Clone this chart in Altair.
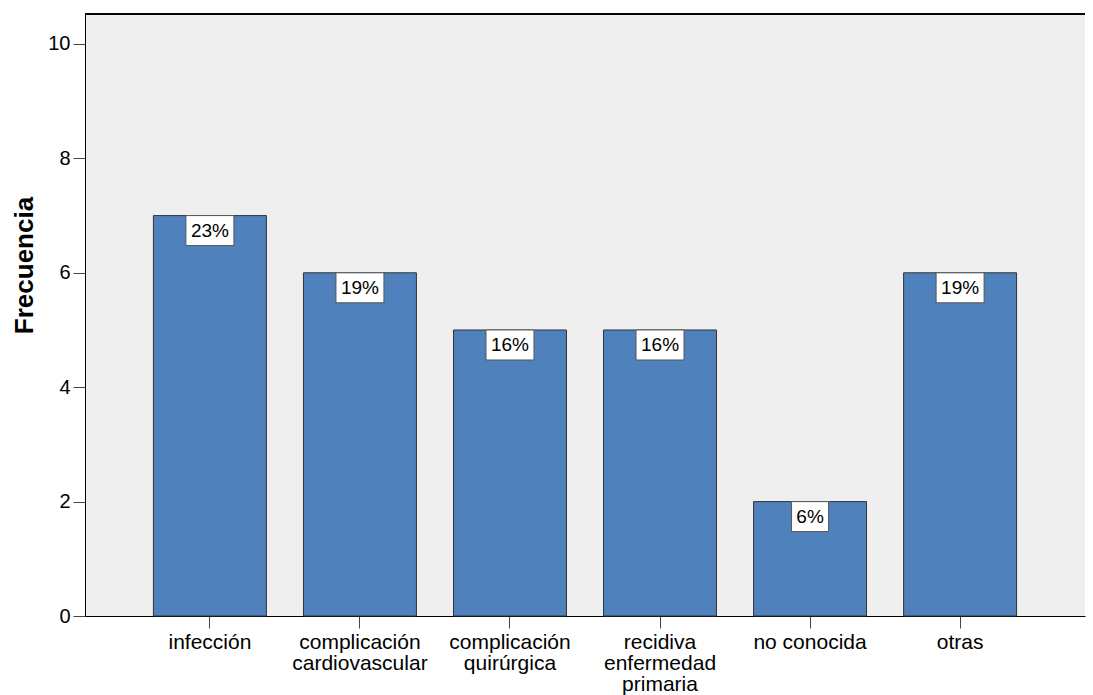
import altair as alt
import pandas as pd

# Causas (el separador "|" marca el salto de línea en la etiqueta del eje)
causas = [
    "infección",
    "complicación|cardiovascular",
    "complicación|quirúrgica",
    "recidiva|enfermedad|primaria",
    "no conocida",
    "otras",
]
frecuencia = [7, 6, 5, 5, 2, 6]
porcentaje = ["23%", "19%", "16%", "16%", "6%", "19%"]
y_ticks = [0, 2, 4, 6, 8, 10]

df = pd.DataFrame({"causa": causas, "frecuencia": frecuencia, "pct": porcentaje})

FONT = "Liberation Sans"
W, H = 1000, 602

x_enc = alt.X(
    "causa:N",
    sort=causas,
    scale=alt.Scale(paddingInner=0.247, paddingOuter=0.456),
    axis=alt.Axis(
        title=None,
        labelAngle=0,
        labelExpr="split(datum.label, '|')",
        labelFont=FONT,
        labelFontSize=21,
        labelColor="black",
        labelLineHeight=21,
        labelPadding=3,
        tickSize=12,
        tickColor="#444444",
        domainColor="black",
        grid=False,
    ),
)
y_enc = alt.Y(
    "frecuencia:Q",
    scale=alt.Scale(domain=[0, 10.524], nice=False, zero=True),
    axis=alt.Axis(
        values=y_ticks,
        format="d",
        title="Frecuencia",
        titleFont=FONT,
        titleFontSize=26,
        titleFontWeight="bold",
        titleColor="black",
        titleAngle=-90,
        titleX=-61,
        titleY=251,
        titleAlign="center",
        titleBaseline="middle",
        labelFont=FONT,
        labelFontSize=20,
        labelColor="black",
        labelPadding=3,
        tickSize=12,
        tickColor="#444444",
        domainColor="black",
        grid=False,
    ),
)

base = alt.Chart(df)

bars = base.mark_bar(color="#4F81BD", stroke="#333333", strokeWidth=1).encode(
    x=x_enc, y=y_enc
)

# Recuadro blanco con el porcentaje, colgado del borde superior de cada barra
boxes = (
    base.transform_calculate(ancho="11 * length(datum.pct) + 15")
    .mark_bar(fill="white", stroke="#555555", strokeWidth=1, y2Offset=30)
    .encode(
        x=alt.X("causa:N", sort=causas),
        y=alt.Y("frecuencia:Q"),
        y2=alt.Y2("frecuencia"),
        size=alt.Size("ancho:Q", scale=None, legend=None),
    )
)

labels = base.mark_text(
    dy=15, baseline="middle", align="center", font=FONT, fontSize=19, color="black"
).encode(x=alt.X("causa:N", sort=causas), y=alt.Y("frecuencia:Q"), text="pct:N")

# Borde superior del área de trazado
top_border = alt.Chart(df).mark_rule(color="black", strokeWidth=1).encode(
    x=alt.value(0), x2=alt.value(W), y=alt.value(0)
)

chart = (
    alt.layer(bars, boxes, labels, top_border)
    .properties(
        width=W,
        height=H,
        autosize=alt.AutoSizeParams(type="none"),
        padding={"left": 85, "top": 14, "right": 8, "bottom": 79},
        background="white",
    )
    .configure_view(fill="#EFEFEF", strokeOpacity=0, strokeWidth=0)
)

chart.save("out.html", embed_options={"renderer": "svg", "actions": False})
